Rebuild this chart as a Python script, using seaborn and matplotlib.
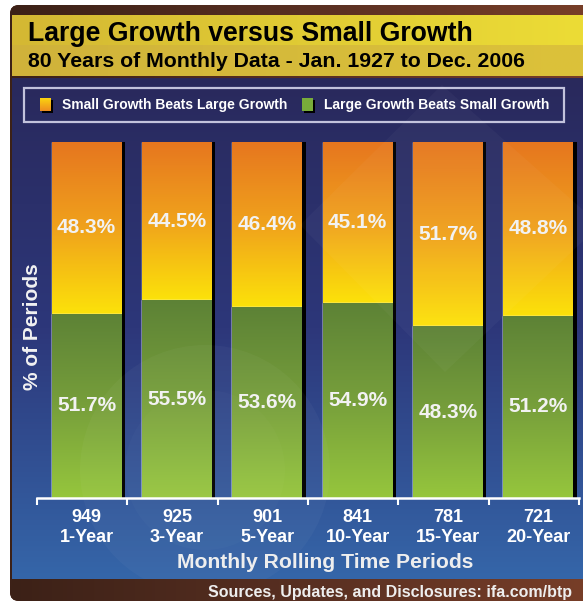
import numpy as np
import pandas as pd
import matplotlib
matplotlib.use("Agg")
import matplotlib.pyplot as plt
import seaborn as sns
from matplotlib.patches import Rectangle, FancyBboxPatch, Polygon, Circle
from matplotlib.colors import LinearSegmentedColormap

# ---------------- data ----------------
periods = ["1-Year", "3-Year", "5-Year", "10-Year", "15-Year", "20-Year"]
counts = [949, 925, 901, 841, 781, 721]
small_beats_large = [48.3, 44.5, 46.4, 45.1, 51.7, 48.8]
large_beats_small = [51.7, 55.5, 53.6, 54.9, 48.3, 51.2]

title = "Large Growth versus Small Growth"
subtitle = "80 Years of Monthly Data - Jan. 1927 to Dec. 2006"
legend_labels = ["Small Growth Beats Large Growth", "Large Growth Beats Small Growth"]
xlabel = "Monthly Rolling Time Periods"
ylabel = "% of Periods"
footer = "Sources, Updates, and Disclosures: ifa.com/btp"

sns.set_theme(style="white")
plt.rcParams['font.family'] = ['Liberation Sans', 'DejaVu Sans']

W, H = 583, 602
fig = plt.figure(figsize=(W / 100, H / 100), dpi=100)
fig.patch.set_facecolor("white")

bg = fig.add_axes([0, 0, 1, 1], zorder=0)
bg.axis("off")


def grad(ax, x0, x1, y0, y1, colors, z, horizontal=False, clip=None, n=256):
    """y0/y1: extent values for (bottom, top) in the axes' data coords."""
    cmap = LinearSegmentedColormap.from_list("g", colors)
    v = np.linspace(0, 1, n)
    arr = v.reshape(1, -1) if horizontal else v.reshape(-1, 1)
    im = ax.imshow(arr, cmap=cmap, extent=[x0, x1, y0, y1], aspect="auto",
                   zorder=z, interpolation="bilinear", origin="upper")
    if clip is not None:
        im.set_clip_path(clip)
    return im


# brown rounded panel
panel = FancyBboxPatch((10, 5), 620, 596, boxstyle="round,pad=0,rounding_size=9",
                       facecolor="#5a3020", edgecolor="none", zorder=1)
bg.add_patch(panel)
grad(bg, 10, 630, 601, 5, ["#3c2117", "#5a3022", "#7c4029"], 1.1, horizontal=True, clip=panel)

# banner
grad(bg, 12, 583, 45, 15, ["#d4b833", "#e0cb34", "#ecdc36"], 2, horizontal=True)
grad(bg, 12, 583, 76, 45, ["#d0b23b", "#d6bb3a", "#dcc23a"], 2, horizontal=True)

# blue plot area
grad(bg, 12, 583, 579, 78, ["#29295c", "#2d377a", "#3566a9"], 2)

# legend frame
bg.add_patch(Rectangle((24, 87.5), 540, 34.5, facecolor="none", edgecolor="#c3c3dc",
                       lw=1.6, zorder=3))
# legend swatches
bg.add_patch(Rectangle((41.5, 99.5), 11, 13, facecolor="black", edgecolor="none", zorder=3))
sw1 = Rectangle((40, 98), 11, 13, facecolor="#f2a81c", edgecolor="none", zorder=3.1)
bg.add_patch(sw1)
grad(bg, 40, 51, 111, 98, ["#fbd40f", "#ee8c20"], 3.2, clip=sw1)
bg.add_patch(Rectangle((303.5, 99.5), 11, 13, facecolor="black", edgecolor="none", zorder=3))
bg.add_patch(Rectangle((302, 98), 11, 13, facecolor="#78ac3a", edgecolor="none", zorder=3.1))
bg.text(62, 105, legend_labels[0], color="white", fontsize=10, fontweight="bold",
        va="center", ha="left", zorder=4)
bg.text(324, 105, legend_labels[1], color="white", fontsize=10, fontweight="bold",
        va="center", ha="left", zorder=4)

# titles
bg.text(28, 41, title, fontsize=19.2, fontweight="bold", color="black",
        ha="left", va="baseline", zorder=4)
bg.text(28, 67, subtitle, fontsize=15.3, fontweight="bold", color="black",
        ha="left", va="baseline", zorder=4)

# axis titles and footer
bg.text(33, 327, ylabel, rotation=90, color="#f2f2f2", fontsize=15, fontweight="bold",
        ha="center", va="center", zorder=4)
bg.text(325, 562, xlabel, color="#eeeeee", fontsize=15.2, fontweight="bold",
        ha="center", va="center", zorder=4)
bg.text(572, 592, footer, color="#eeeeee", fontsize=11.5, fontweight="bold",
        ha="right", va="center", zorder=4)

bg.set_xlim(0, W)
bg.set_ylim(H, 0)

# ---------------- main bars ----------------
ax = fig.add_axes([37 / W, (H - 498) / H, (579 - 37) / W, (498 - 142) / H], zorder=2)
ax.patch.set_alpha(0)

df = pd.DataFrame({
    "period": periods,
    "large": large_beats_small,
    "small": small_beats_large,
})
df["top"] = df["large"] + df["small"]

orange = "#f0a21c"
green = "#7aa83c"
sns.barplot(data=df, x="period", y="top", color=orange, saturation=1, width=0.775,
            ax=ax, zorder=1)
sns.barplot(data=df, x="period", y="large", color=green, saturation=1, width=0.775,
            ax=ax, zorder=2)

pxu = (579 - 37) / 6.0
top_bars = ax.containers[0]
green_bars = ax.containers[1]
for pt, pg, s, l in zip(top_bars, green_bars, small_beats_large, large_beats_small):
    x = pt.get_x()
    w = pt.get_width()
    gtop = pg.get_height()
    ttop = pt.get_height()
    grad(ax, x, x + w, gtop, ttop, ["#e6761f", "#f0a21c", "#fce20a"], 1.5, clip=pt)
    grad(ax, x, x + w, 0, gtop, ["#5d8236", "#779f3b", "#96c63d"], 2.5, clip=pg)
    ax.add_patch(Rectangle((x + w, 0), 3.2 / pxu, ttop, facecolor="black",
                           edgecolor="none", zorder=3))
    cx = x + w / 2
    ax.text(cx, gtop + (ttop - gtop) / 2, f"{s}%", color="#f2f2f2", fontsize=15,
            fontweight="bold", ha="center", va="center", zorder=4)
    ax.text(cx, gtop / 2, f"{l}%", color="#f2f2f2", fontsize=15,
            fontweight="bold", ha="center", va="center", zorder=4)

ax.set_xlim(-0.55, 5.45)
ax.set_ylim(0, 100)
ax.set_yticks([])
ax.set_xlabel("")
ax.set_ylabel("")
ax.set_xticks(range(len(periods)))
ax.set_xticklabels([f"{c}\n{p}" for c, p in zip(counts, periods)], color="white",
                   fontsize=13, fontweight="bold", linespacing=1.2)
ax.set_xticks(np.arange(len(periods) + 1) - 0.55, minor=True)
ax.tick_params(axis="x", which="major", length=0, pad=8)
ax.tick_params(axis="x", which="minor", length=5, width=1.5, color="white",
               direction="out", bottom=True)
for side in ["top", "left", "right"]:
    ax.spines[side].set_visible(False)
ax.spines["bottom"].set_color("white")
ax.spines["bottom"].set_linewidth(1.8)
ax.spines["bottom"].set_zorder(5)

# ---------------- faint watermark overlay ----------------
wm = fig.add_axes([0, 0, 1, 1], zorder=3)
wm.axis("off")
wm.patch.set_alpha(0)
area = Rectangle((12, 78), 571, 501, facecolor="none", edgecolor="none")
wm.add_patch(area)
d = Polygon([(442, 85), (300, 225), (445, 372), (600, 225)], closed=True,
            facecolor="white", edgecolor="none", alpha=0.03)
wm.add_patch(d)
d.set_clip_path(area)
c1 = Circle((205, 470), 125, facecolor="white", edgecolor="none", alpha=0.03)
wm.add_patch(c1)
c1.set_clip_path(area)
c2 = Circle((205, 470), 80, facecolor="white", edgecolor="none", alpha=0.02)
wm.add_patch(c2)
c2.set_clip_path(area)
wm.set_xlim(0, W)
wm.set_ylim(H, 0)

fig.savefig("out.png", dpi=100)
